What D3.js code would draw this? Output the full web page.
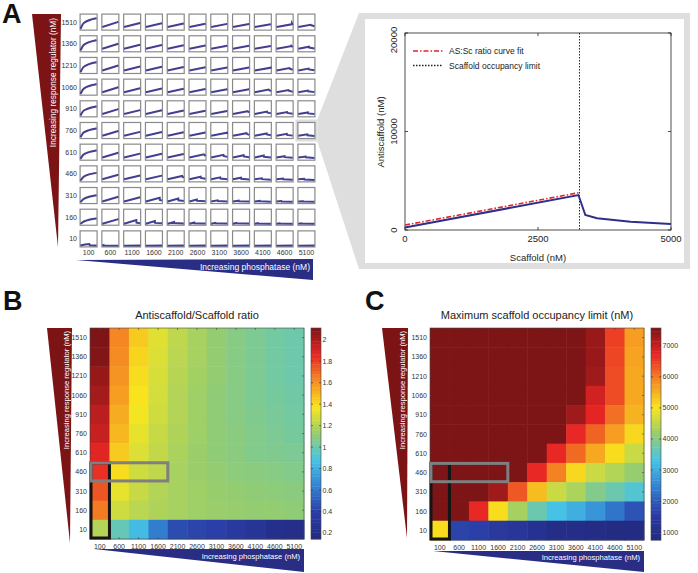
<!DOCTYPE html>
<html lang="en">
<head>
<meta charset="UTF-8">
<title>Antiscaffold / scaffold figure</title>
<script src="https://d3js.org/d3.v7.min.js"></script>
<style>
    body { margin: 0; background: #fff; }
    svg { display: block; font-family: "Liberation Sans", Arial, Helvetica, sans-serif; }
</style>
</head>
<body>
<svg id="fig" width="698" height="573"></svg>
<script>
// ---- data ----
const regulator = [1510, 1360, 1210, 1060, 910, 760, 610, 460, 310, 160, 10];   // rows, top -> bottom
const phosphatase = [100, 600, 1100, 1600, 2100, 2600, 3100, 3600, 4100, 4600, 5100];

// Antiscaffold/Scaffold ratio (panel B)
const ratio = [
    [2.11, 1.63, 1.45, 1.31, 1.23, 1.17, 1.12, 1.08, 1.05, 1.02, 1.00],
    [2.10, 1.62, 1.42, 1.30, 1.22, 1.17, 1.12, 1.08, 1.05, 1.02, 1.00],
    [2.05, 1.60, 1.40, 1.29, 1.21, 1.16, 1.12, 1.08, 1.05, 1.02, 1.00],
    [2.02, 1.57, 1.38, 1.28, 1.20, 1.15, 1.11, 1.08, 1.05, 1.03, 1.01],
    [1.97, 1.53, 1.36, 1.27, 1.20, 1.15, 1.11, 1.08, 1.06, 1.04, 1.02],
    [1.94, 1.50, 1.33, 1.25, 1.19, 1.15, 1.11, 1.09, 1.07, 1.05, 1.03],
    [1.88, 1.45, 1.30, 1.24, 1.18, 1.14, 1.11, 1.09, 1.07, 1.06, 1.05],
    [1.84, 1.40, 1.27, 1.23, 1.17, 1.14, 1.12, 1.10, 1.09, 1.08, 1.07],
    [1.75, 1.33, 1.25, 1.20, 1.17, 1.15, 1.13, 1.12, 1.11, 1.10, 1.09],
    [1.66, 1.27, 1.22, 1.19, 1.17, 1.15, 1.14, 1.13, 1.12, 1.12, 1.11],
    [1.20, 0.98, 0.85, 0.62, 0.45, 0.42, 0.40, 0.35, 0.30, 0.23, 0.20]
];
const ratioDomain = [0.144, 2.11];
const ratioTicks = [0.2, 0.4, 0.6, 0.8, 1, 1.2, 1.4, 1.6, 1.8, 2];

// Maximum scaffold occupancy limit, nM (panel C)
const occupancy = [
    [7570, 7570, 7570, 7570, 7570, 7570, 7570, 7570, 7350, 6500, 5700],
    [7570, 7570, 7570, 7570, 7570, 7570, 7570, 7570, 7350, 6450, 5650],
    [7570, 7570, 7570, 7570, 7570, 7570, 7570, 7570, 7300, 6400, 5600],
    [7570, 7570, 7570, 7570, 7570, 7570, 7570, 7570, 6900, 6400, 5600],
    [7570, 7570, 7570, 7570, 7570, 7570, 7570, 7300, 6750, 6100, 5500],
    [7570, 7570, 7570, 7570, 7570, 7570, 7570, 6700, 6200, 5700, 5150],
    [7570, 7570, 7570, 7570, 7570, 7570, 6700, 6150, 5600, 5100, 4600],
    [7570, 7570, 7570, 7570, 7570, 6700, 5950, 5150, 4600, 4400, 4150],
    [7570, 7570, 7570, 7300, 6300, 5400, 4600, 4350, 3950, 3700, 3450],
    [7570, 7570, 6700, 5100, 4300, 3700, 3300, 3050, 2700, 2300, 1900],
    [5100, 1700, 1650, 1450, 1300, 1150, 900, 900, 850, 820, 800]
];
const occDomain = [750, 7570];
const occTicks = [1000, 2000, 3000, 4000, 5000, 6000, 7000];

// Small multiples (panel A): antiscaffold vs scaffold, read per cell
const miniPeakX = [
    [5000, 5000, 5000, 5000, 5000, 5000, 5000, 5000, 5000, 4700, 3800],
    [5000, 5000, 5000, 5000, 5000, 5000, 5000, 5000, 5000, 4500, 3300],
    [5000, 5000, 5000, 5000, 5000, 5000, 5000, 5000, 4800, 4000, 3200],
    [5000, 5000, 5000, 5000, 5000, 5000, 5000, 5000, 4300, 3700, 3000],
    [5000, 5000, 5000, 5000, 5000, 5000, 5000, 4500, 3800, 3300, 3000],
    [5000, 5000, 5000, 5000, 5000, 5000, 4800, 4200, 3700, 3200, 2800],
    [5000, 5000, 5000, 5000, 5000, 4500, 3800, 3300, 2800, 2500, 2300],
    [5000, 5000, 5000, 5000, 4500, 3500, 2800, 2500, 2200, 2000, 1800],
    [5000, 5000, 5000, 4300, 3300, 2300, 2000, 1800, 1600, 1500, 1500],
    [5000, 5000, 3800, 2800, 2000, 1500, 1300, 1100, 1000, 1000, 1000],
    [2800, 400, 5000, 5000, 5000, 5000, 5000, 5000, 5000, 5000, 5000]
];
const miniPeakY = [
    [15000, 10000, 8500, 8000, 7800, 7500, 7200, 7000, 6800, 6600, 6000],
    [14500, 9800, 8400, 8000, 7600, 7400, 7100, 6900, 6700, 6400, 5600],
    [14000, 9600, 8200, 7800, 7500, 7300, 7000, 6800, 6500, 6000, 5400],
    [13500, 9400, 8000, 7700, 7400, 7200, 6900, 6700, 6300, 5600, 5000],
    [13000, 9200, 7900, 7600, 7300, 7100, 6800, 6300, 5800, 5200, 4600],
    [12500, 9000, 7800, 7500, 7200, 7000, 6600, 6000, 5500, 5000, 4400],
    [12000, 8800, 7700, 7400, 7100, 6700, 6000, 5400, 5000, 4200, 3700],
    [11000, 8500, 7500, 7200, 6800, 5700, 4800, 4300, 3600, 3200, 2800],
    [10000, 8000, 7200, 6600, 5600, 4200, 3000, 2600, 2300, 2000, 1800],
    [8000, 7000, 5800, 4500, 3200, 2400, 1900, 1700, 1500, 1400, 1300],
    [2800, 1200, 500, 500, 500, 500, 500, 500, 500, 500, 500]
];
const miniEndY = [
    [15000, 10000, 8500, 8000, 7800, 7500, 7200, 7000, 6800, 5800, 4000],
    [14500, 9800, 8400, 8000, 7600, 7400, 7100, 6900, 6700, 5000, 3200],
    [14000, 9600, 8200, 7800, 7500, 7300, 7000, 6800, 5500, 3800, 3000],
    [13500, 9400, 8000, 7700, 7400, 7200, 6900, 6700, 4200, 3400, 2800],
    [13000, 9200, 7900, 7600, 7300, 7100, 6800, 4500, 3400, 2800, 2400],
    [12500, 9000, 7800, 7500, 7200, 7000, 4800, 3600, 3000, 2600, 2200],
    [12000, 8800, 7700, 7400, 7100, 4400, 3200, 2700, 2300, 2000, 1800],
    [11000, 8500, 7500, 7200, 4200, 2900, 2300, 2000, 1700, 1500, 1300],
    [10000, 8000, 7200, 2600, 2200, 1800, 1500, 1300, 1200, 1100, 1000],
    [8000, 7000, 1500, 1300, 1100, 1000, 900, 850, 800, 800, 800],
    [600, 400, 500, 500, 500, 500, 500, 500, 500, 500, 500]
];
const miniRowStart = [3000, 2900, 2800, 2700, 2600, 2500, 2400, 2200, 1400, 700, 400];
const miniFirstColKnee = [8500, 8200, 7900, 7600, 7300, 7000, 6700, 6000, 5000, 3800, 1500];

// Inset: regulator 760, phosphatase 5100
const insetScaffold = [0, 3260, 3390, 3610, 4240, 5000];
const insetAnti = [250, 3550, 1520, 1190, 850, 620];
const fitScaffold = [0, 3280];
const fitAnti = [500, 3800];
const occupancyLimit = 3280;

// ---- helpers ----
const svg = d3.select('#fig');
const navy = '#2e2f88';
const darkRed = '#7c1416';
const triBlue = '#2a2d84';

// jet-like map, toned to the printed colours of the figure
const jetStops = ['#232a80', '#2a3ca5', '#3282d2', '#46c3e6', '#96cd6e', '#f8e61e', '#f58c23', '#e82624', '#7d1416'];
const jet = d3.scaleLinear().domain(d3.range(9).map(k => k / 8)).range(jetStops)
    .interpolate(d3.interpolateRgb).clamp(true);

function panelLetter(txt, x, y) {
    svg.append('text').attr('x', x).attr('y', y).text(txt)
        .attr('font-size', 27).attr('font-weight', 'bold').attr('fill', '#111');
}

function redWedge(pts, tx, ty, fs) {
    svg.append('polygon').attr('points', pts.map(p => p.join(',')).join(' ')).attr('fill', darkRed);
    svg.append('text')
        .attr('transform', `translate(${tx},${ty}) rotate(-90)`)
        .attr('text-anchor', 'end').attr('font-size', fs).attr('fill', '#fff')
        .text('Increasing response regulator (nM)');
}

function blueWedge(pts, tx, ty, fs) {
    svg.append('polygon').attr('points', pts.map(p => p.join(',')).join(' ')).attr('fill', triBlue);
    svg.append('text').attr('x', tx).attr('y', ty)
        .attr('text-anchor', 'end').attr('font-size', fs).attr('fill', '#fff')
        .text('Increasing phosphatase (nM)');
}

// ---- Panel A ----
panelLetter('A', 2, 23);
redWedge([[32, 14], [61, 14], [58, 247]], 55.5, 18, 8.3);
blueWedge([[76, 260], [313, 259], [313, 280]], 310, 270, 8.5);

const gx = d3.scaleBand().domain(phosphatase).range([79, 316]).paddingInner(0.22).paddingOuter(0.05);
const gy = d3.scaleBand().domain(regulator).range([13, 248]).paddingInner(0.26).paddingOuter(0.05);
const mx = d3.scaleLinear().domain([0, 5000]);
const my = d3.scaleLinear().domain([0, 20000]);

// zoom wedge to inset
const hx = gx(5100), hy = gy(760);
svg.append('rect').attr('x', hx - 2.5).attr('y', hy - 3).attr('width', gx.bandwidth() + 5).attr('height', gy.bandwidth() + 6).attr('fill', '#dedede');
svg.append('polygon')
    .attr('points', `${hx + gx.bandwidth() + 2.5},${hy - 3} 359,13 359,269 ${hx + gx.bandwidth() + 2.5},${hy + gy.bandwidth() + 3}`)
    .attr('fill', '#dedede');
svg.append('rect').attr('x', 359).attr('y', 13).attr('width', 331).attr('height', 256).attr('fill', '#dedede');
svg.append('rect').attr('x', 365).attr('y', 19).attr('width', 319).attr('height', 244).attr('fill', '#fff');

regulator.forEach((reg, i) => {
    svg.append('text').attr('x', 77).attr('y', gy(reg) + gy.bandwidth() / 2 + 2.5)
        .attr('text-anchor', 'end').attr('font-size', 7).attr('fill', '#333').text(reg);
    phosphatase.forEach((ph, j) => {
        const x0 = gx(ph), y0 = gy(reg), w = gx.bandwidth(), h = gy.bandwidth();
        mx.range([x0 + 0.5, x0 + w - 0.5]);
        my.range([y0 + h - 1, y0 + 0.5]);
        const g = svg.append('g');
        g.append('rect').attr('x', x0).attr('y', y0).attr('width', w).attr('height', h)
            .attr('fill', '#fff').attr('stroke', '#8a8a8a').attr('stroke-width', 1.2);
        const start = j === 0 ? 500 : miniRowStart[i];
        const px = miniPeakX[i][j], py = miniPeakY[i][j], ey = miniEndY[i][j];
        let rise = j === 0 ? [[0, start], [1000, miniFirstColKnee[i]], [Math.min(px, 5000), py]]
                           : [[0, start], [Math.min(px, 5000), py]];
        const pts = rise.slice();
        if (px < 5000) pts.push([px + 60, ey * 1.4], [5000, ey]);
        const curve = j === 0 && px >= 1000 ? d3.curveMonotoneX : d3.curveLinear;
        g.append('path').datum(rise.map(d => [d[0], d[1] * 1.06]))
            .attr('d', d3.line().x(d => mx(d[0])).y(d => my(d[1])).curve(curve))
            .attr('fill', 'none').attr('stroke', '#e0506a').attr('stroke-width', 0.8)
            .attr('stroke-opacity', 0.7).attr('stroke-dasharray', '2,1');
        g.append('path').datum(pts)
            .attr('d', d3.line().x(d => mx(d[0])).y(d => my(d[1])).curve(curve))
            .attr('fill', 'none').attr('stroke', navy).attr('stroke-width', 2).attr('stroke-opacity', 0.9);
    });
});
phosphatase.forEach(ph => {
    svg.append('text').attr('x', gx(ph) + gx.bandwidth() / 2).attr('y', 255)
        .attr('text-anchor', 'middle').attr('font-size', 7).attr('fill', '#333').text(ph);
});

// ---- Inset ----
const ix = d3.scaleLinear().domain([0, 5000]).range([405, 671]);
const iy = d3.scaleLinear().domain([0, 20000]).range([230, 33]);
const inset = svg.append('g');
inset.append('rect').attr('x', 405).attr('y', 33).attr('width', 266).attr('height', 197)
    .attr('fill', 'none').attr('stroke', '#222').attr('stroke-width', 0.8);
[0, 2500, 5000].forEach(t => {
    inset.append('line').attr('x1', ix(t)).attr('x2', ix(t)).attr('y1', 230).attr('y2', 227).attr('stroke', '#222').attr('stroke-width', 0.8);
    inset.append('line').attr('x1', ix(t)).attr('x2', ix(t)).attr('y1', 33).attr('y2', 36).attr('stroke', '#222').attr('stroke-width', 0.8);
    inset.append('text').attr('x', ix(t)).attr('y', 242).attr('text-anchor', 'middle')
        .attr('font-size', 9.5).attr('fill', '#222').text(t);
});
[0, 10000, 20000].forEach(t => {
    inset.append('line').attr('x1', 405).attr('x2', 408).attr('y1', iy(t)).attr('y2', iy(t)).attr('stroke', '#222').attr('stroke-width', 0.8);
    inset.append('line').attr('x1', 671).attr('x2', 668).attr('y1', iy(t)).attr('y2', iy(t)).attr('stroke', '#222').attr('stroke-width', 0.8);
    const ty = t === 20000 ? iy(t) + 7 : iy(t);
    inset.append('text').attr('transform', `translate(397,${ty}) rotate(-90)`)
        .attr('text-anchor', 'middle').attr('font-size', 9.5).attr('fill', '#222').text(t);
});
inset.append('text').attr('x', 538).attr('y', 261).attr('text-anchor', 'middle')
    .attr('font-size', 9.5).attr('fill', '#222').text('Scaffold (nM)');
inset.append('text').attr('transform', 'translate(384,132) rotate(-90)').attr('text-anchor', 'middle')
    .attr('font-size', 9.5).attr('fill', '#222').text('Antiscaffold (nM)');

inset.append('line').attr('x1', ix(occupancyLimit)).attr('x2', ix(occupancyLimit)).attr('y1', 33).attr('y2', 230)
    .attr('stroke', '#222').attr('stroke-width', 1).attr('stroke-dasharray', '1.5,1.5');
const insetLine = d3.line().x(d => ix(d[0])).y(d => iy(d[1]));
inset.append('path').datum(insetScaffold.map((s, k) => [s, insetAnti[k]]))
    .attr('d', insetLine).attr('fill', 'none').attr('stroke', navy).attr('stroke-width', 2);
inset.append('path').datum(fitScaffold.map((s, k) => [s, fitAnti[k]]))
    .attr('d', insetLine).attr('fill', 'none').attr('stroke', '#e3232a').attr('stroke-width', 1.6)
    .attr('stroke-dasharray', '5,2,1.5,2');

// legend
inset.append('line').attr('x1', 413).attr('x2', 443).attr('y1', 51).attr('y2', 51)
    .attr('stroke', '#e3232a').attr('stroke-width', 1.6).attr('stroke-dasharray', '5,2,1.5,2');
inset.append('text').attr('x', 449).attr('y', 54).attr('font-size', 8.5).attr('fill', '#222').text('AS:Sc ratio curve fit');
inset.append('line').attr('x1', 413).attr('x2', 443).attr('y1', 65.5).attr('y2', 65.5)
    .attr('stroke', '#222').attr('stroke-width', 1.5).attr('stroke-dasharray', '1.5,1.5');
inset.append('text').attr('x', 449).attr('y', 68.5).attr('font-size', 8.5).attr('fill', '#222').text('Scaffold occupancy limit');

// ---- Heatmaps ----
function heatmap(o) {
    const x = d3.scaleBand().domain(phosphatase).range([o.x0, o.x1]);
    const y = d3.scaleBand().domain(regulator).range([o.y0, o.y1]);
    const c = d3.scaleLinear().domain(o.domain).range([0, 1]);
    const g = svg.append('g');
    regulator.forEach((reg, i) => phosphatase.forEach((ph, j) => {
        g.append('rect').attr('x', x(ph)).attr('y', y(reg))
            .attr('width', x.bandwidth() + 0.5).attr('height', y.bandwidth() + 0.5)
            .attr('fill', jet(c(o.values[i][j])));
    }));
    g.append('rect').attr('x', o.x0).attr('y', o.y0).attr('width', o.x1 - o.x0).attr('height', o.y1 - o.y0)
        .attr('fill', 'none').attr('stroke', '#444').attr('stroke-width', 0.6);
    phosphatase.forEach(ph => {
        const cx = x(ph) + x.bandwidth() / 2;
        g.append('line').attr('x1', cx).attr('x2', cx).attr('y1', o.y0).attr('y2', o.y0 + 2).attr('stroke', '#444').attr('stroke-width', 0.6);
        g.append('line').attr('x1', cx).attr('x2', cx).attr('y1', o.y1).attr('y2', o.y1 - 2).attr('stroke', '#444').attr('stroke-width', 0.6);
        g.append('text').attr('x', cx).attr('y', o.y1 + 9.5).attr('text-anchor', 'middle')
            .attr('font-size', 7).attr('fill', '#333').text(ph);
    });
    regulator.forEach(reg => {
        const cy = y(reg) + y.bandwidth() / 2;
        g.append('line').attr('x1', o.x0).attr('x2', o.x0 + 2).attr('y1', cy).attr('y2', cy).attr('stroke', '#444').attr('stroke-width', 0.6);
        g.append('line').attr('x1', o.x1).attr('x2', o.x1 - 2).attr('y1', cy).attr('y2', cy).attr('stroke', '#444').attr('stroke-width', 0.6);
        g.append('text').attr('x', o.x0 - 3).attr('y', cy + 2.5).attr('text-anchor', 'end')
            .attr('font-size', 7).attr('fill', '#333').text(reg);
    });
    g.append('text').attr('x', (o.x0 + o.x1) / 2).attr('y', o.y0 - 9).attr('text-anchor', 'middle')
        .attr('font-size', 11).attr('fill', '#222').text(o.title);

    // colorbar
    const cb = d3.scaleLinear().domain(o.domain).range([o.y1, o.y0]);
    const steps = d3.range(64);
    const stepH = (o.y1 - o.y0) / 64;
    g.selectAll(null).data(steps).enter().append('rect')
        .attr('x', o.cb).attr('width', 10)
        .attr('y', d => o.y1 - (d + 1) * stepH).attr('height', stepH + 0.4)
        .attr('fill', d => jet((d + 0.5) / 64));
    g.append('rect').attr('x', o.cb).attr('y', o.y0).attr('width', 10).attr('height', o.y1 - o.y0)
        .attr('fill', 'none').attr('stroke', '#444').attr('stroke-width', 0.6);
    o.ticks.forEach(t => {
        g.append('line').attr('x1', o.cb).attr('x2', o.cb + 2).attr('y1', cb(t)).attr('y2', cb(t)).attr('stroke', '#333').attr('stroke-width', 0.6);
        g.append('line').attr('x1', o.cb + 10).attr('x2', o.cb + 8).attr('y1', cb(t)).attr('y2', cb(t)).attr('stroke', '#333').attr('stroke-width', 0.6);
        g.append('text').attr('x', o.cb + 11.5).attr('y', cb(t) + 2.5).attr('font-size', 7).attr('fill', '#333').text(o.fmt(t));
    });

    // highlight boxes: column 100 rows 460..10 (black), row 460 columns 100..1600 (grey)
    const r460 = y(460), c100 = x(100);
    g.append('rect').attr('x', c100 + 1).attr('y', r460 + 0.5).attr('width', x.bandwidth() - 1).attr('height', o.y1 - r460 - 1.5)
        .attr('fill', 'none').attr('stroke', '#151515').attr('stroke-width', 3);
    g.append('rect').attr('x', c100 + 1).attr('y', r460 + 0.5).attr('width', x(1600) + x.bandwidth() - c100 - 1).attr('height', y.bandwidth() - 1)
        .attr('fill', 'none').attr('stroke', '#7f7f7f').attr('stroke-width', 3);
    return g;
}

panelLetter('B', 3, 310);
redWedge([[47, 328], [72, 328], [70, 543]], 68.5, 331, 7.6);
blueWedge([[94, 549], [304, 549], [304, 572]], 300, 559, 7.6);
heatmap({ x0: 90, x1: 304, y0: 328, y1: 539, cb: 311, values: ratio, domain: ratioDomain,
          ticks: ratioTicks, fmt: d3.format('~g'), title: 'Antiscaffold/Scaffold ratio' });

panelLetter('C', 365, 310);
redWedge([[382, 328], [408, 328], [407, 538]], 404.5, 331, 7.6);
blueWedge([[433, 551], [644, 551], [644, 572]], 640, 560, 7.6);
heatmap({ x0: 430, x1: 644, y0: 328, y1: 540, cb: 651, values: occupancy, domain: occDomain,
          ticks: occTicks, fmt: d3.format('d'), title: 'Maximum scaffold occupancy limit (nM)' });
</script>
</body>
</html>
